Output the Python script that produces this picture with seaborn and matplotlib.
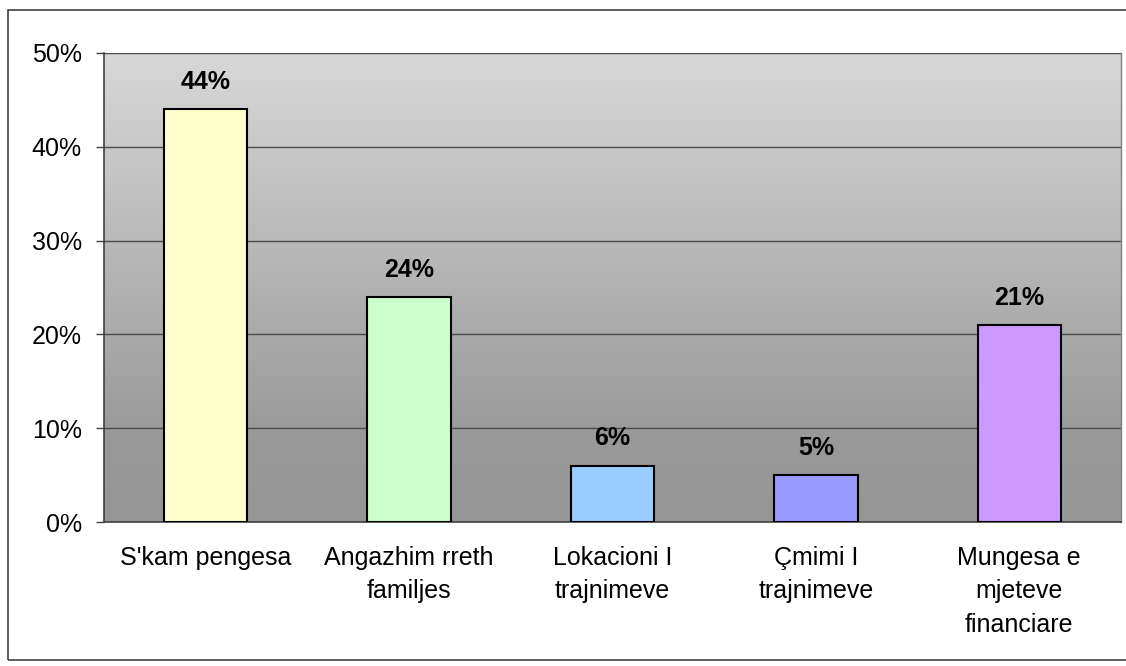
import numpy as np
import pandas as pd
import matplotlib
matplotlib.use("Agg")
import matplotlib.pyplot as plt
import seaborn as sns
from matplotlib.patches import Rectangle
from matplotlib.colors import LinearSegmentedColormap

categories = ["S'kam pengesa", "Angazhim rreth\nfamiljes", "Lokacioni I\ntrajnimeve",
              "Çmimi I\ntrajnimeve", "Mungesa e\nmjeteve\nfinanciare"]
values = [44, 24, 6, 5, 21]
colors = ["#FFFFCC", "#CCFFCC", "#99CCFF", "#9999FF", "#CC99FF"]
yticks = [0, 10, 20, 30, 40, 50]

sns.set_style("white")
plt.rcParams['font.family'] = ['Liberation Sans', 'DejaVu Sans']
plt.rcParams['text.color'] = 'black'
plt.rcParams['xtick.color'] = 'black'
plt.rcParams['ytick.color'] = 'black'

fig = plt.figure(figsize=(11.26, 6.66), dpi=100)
ax = fig.add_axes([104/1126, 1-522/666, (1121-104)/1126, (522-53)/666])

# outer border
fig.patches.append(Rectangle((8/1126, 1-660/666), (1140-8)/1126, (660-10)/666,
                             transform=fig.transFigure, fill=False,
                             edgecolor="#404040", linewidth=1.2, zorder=0))

# gradient background
cmap = LinearSegmentedColormap.from_list("g", [(0, "#969696"), (0.18, "#999999"), (1.0, "#D8D8D8")])
grad = np.linspace(0, 1, 256).reshape(-1, 1)
ax.imshow(grad, aspect="auto", cmap=cmap, origin="lower", extent=[0, 1, 0, 1],
          transform=ax.transAxes, zorder=0)

df = pd.DataFrame({"cat": categories, "val": values})
sns.barplot(data=df, x="cat", y="val", hue="cat", palette=colors, legend=False,
            saturation=1, width=0.41, edgecolor="black", linewidth=1.5, ax=ax, zorder=3)

ax.set_xlim(-0.5, 4.5)
ax.set_ylim(0, 50)
ax.set_yticks(yticks)
ax.set_yticklabels([f"{t}%" for t in yticks])
ax.yaxis.grid(True, color="#4a4a4a", linewidth=1.0, zorder=1)
for l in ax.get_ygridlines():
    l.set_zorder(1)

ax.set_xlabel("")
ax.set_ylabel("")
ax.set_xticks(range(5))
ax.set_xticklabels(categories, fontsize=18, linespacing=1.5, va="top")
ax.set_xticks(np.arange(-0.5, 5, 1), minor=True)
ax.tick_params(axis="x", which="major", length=0, pad=17)
ax.tick_params(axis="x", which="minor", length=6, color="#404040", width=1)
ax.tick_params(axis="y", length=6, color="#404040", width=1, pad=10, labelsize=18, left=True)

for s in ["left", "bottom"]:
    ax.spines[s].set_color("#404040")
    ax.spines[s].set_linewidth(1.2)
ax.spines["top"].set_visible(False)
ax.spines["right"].set_color("#808080")
ax.spines["right"].set_linewidth(1.0)

for i, v in enumerate(values):
    ax.annotate(f"{v}%", (i, v), xytext=(0, 11), textcoords="offset points",
                ha="center", va="bottom", fontsize=18, fontweight="bold", zorder=5)

fig.savefig("out.png", dpi=100)
